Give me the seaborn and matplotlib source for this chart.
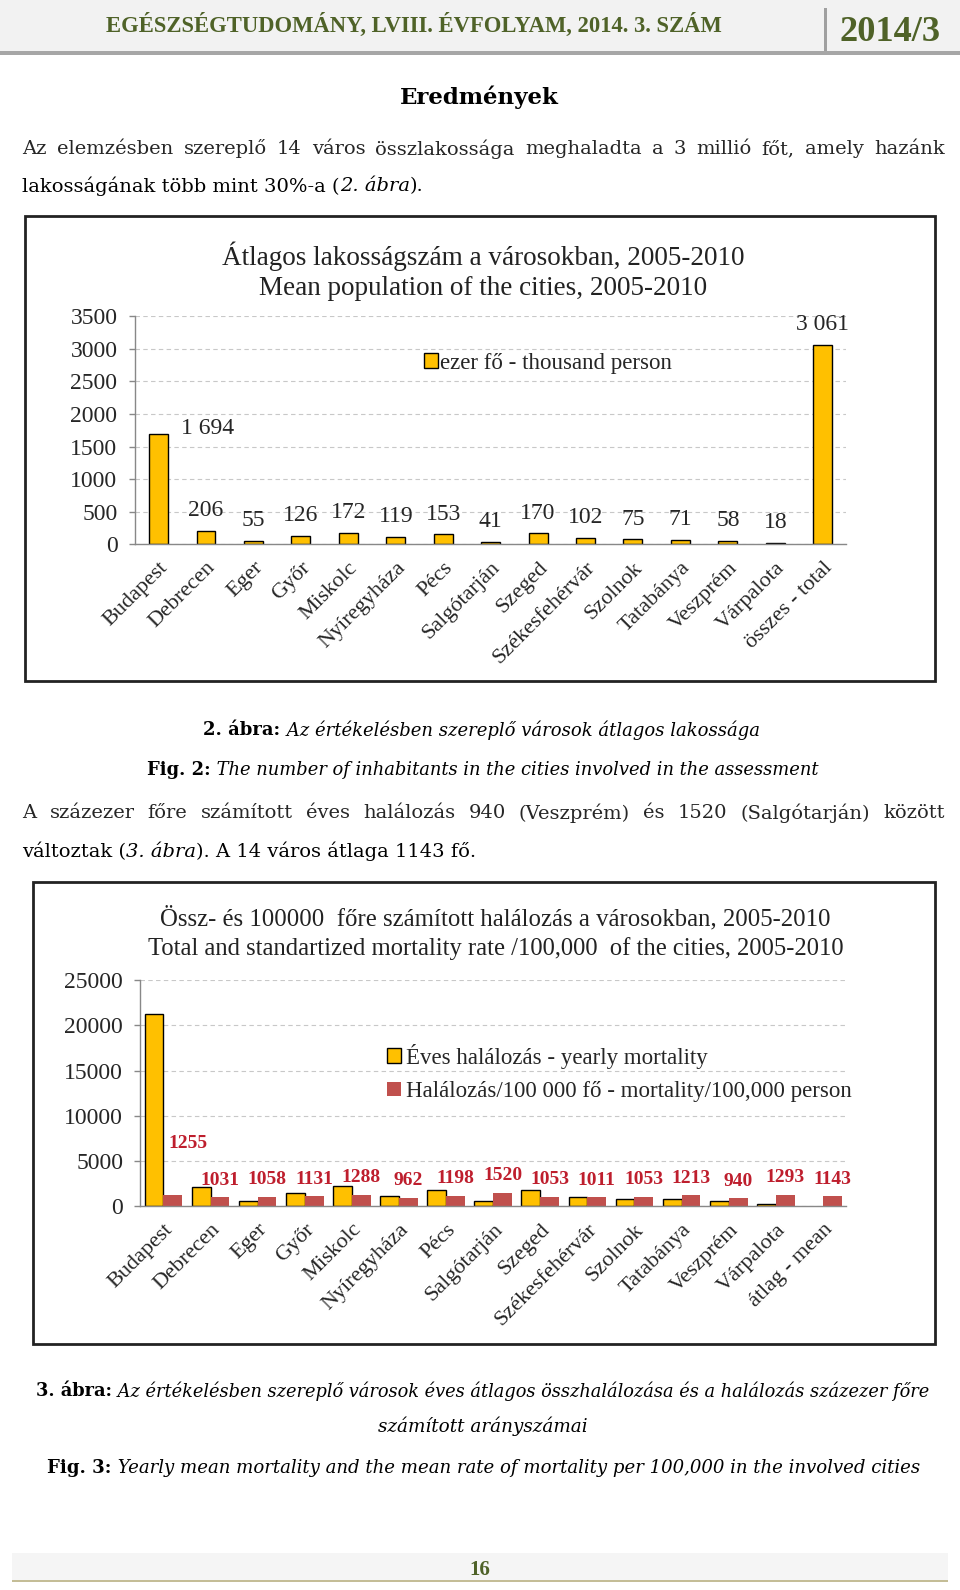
import numpy as np
import pandas as pd
import matplotlib
matplotlib.use("Agg")
import matplotlib.pyplot as plt
from matplotlib.patches import Rectangle
import seaborn as sns

# oldal mérete pixelben
W, H = 960, 1590
S = 960 / 947  # a helyek a képről olvasva, erre a méretre váltva

cities = ['Budapest', 'Debrecen', 'Eger', 'Győr', 'Miskolc', 'Nyíregyháza', 'Pécs',
          'Salgótarján', 'Szeged', 'Székesfehérvár', 'Szolnok', 'Tatabánya',
          'Veszprém', 'Várpalota']

# 2. ábra - átlagos lakosság (ezer fő)
labels_pop = cities + ['összes - total']
population = [1694, 206, 55, 126, 172, 119, 153, 41, 170, 102, 75, 71, 58, 18, 3061]

# 3. ábra - éves halálozás és halálozás/100 000 fő
labels_mort = cities + ['átlag - mean']
yearly_mortality = [21260, 2120, 580, 1430, 2220, 1140, 1830, 620, 1790, 1030,
                    790, 860, 550, 230, np.nan]
mortality_rate = [1255, 1031, 1058, 1131, 1288, 962, 1198, 1520, 1053, 1011,
                  1053, 1213, 940, 1293, 1143]

series_yearly = 'Éves halálozás - yearly mortality'
series_rate = 'Halálozás/100 000 fő - mortality/100,000 person'

YELLOW = '#FFC000'
RED = '#C0504D'
LABEL_RED = '#BE1E2D'
OLIVE = '#4F6228'
GREY = '#888888'
CHART_FONT = 'Liberation Serif'
BODY_FONT = 'DejaVu Serif'
BODY_SIZE = 14

sns.set_style('white')
plt.rcParams['font.family'] = [CHART_FONT, 'DejaVu Sans']

fig = plt.figure(figsize=(W / 100, H / 100), dpi=100)
fig.patch.set_facecolor('white')
r = fig.canvas.get_renderer()


def fx(x):
    return x * S / W


def fy(y):
    return 1 - y * S / H


def axes_px(left, top, right, bottom):
    return fig.add_axes([fx(left), fy(bottom), fx(right) - fx(left), fy(top) - fy(bottom)])


def seg_line(segs, y, x=473, ha='center', width=None, size=BODY_SIZE, family=BODY_FONT, color='black'):
    ts = []
    for s, weight, style in segs:
        ts.append(fig.text(0, fy(y), s, size=size, family=family, weight=weight,
                           style=style, color=color, va='center_baseline'))
    ws = [t.get_window_extent(r).width for t in ts]
    if width is not None:
        k = width * S / sum(ws)
        for t in ts:
            t.set_size(size * k)
        ws = [t.get_window_extent(r).width for t in ts]
    tot = sum(ws)
    x0 = x * S - tot / 2 if ha == 'center' else x * S
    for t, w in zip(ts, ws):
        t.set_x(x0 / W)
        x0 += w
    return ts


def justify(text, y, x0, x1, size=BODY_SIZE, family=BODY_FONT):
    words = text.split()
    ts = [fig.text(0, fy(y), w, size=size, family=family, va='center_baseline') for w in words]
    ws = [t.get_window_extent(r).width for t in ts]
    span = (x1 - x0) * S
    gap = (span - sum(ws)) / (len(words) - 1)
    if gap < 4:
        k = (span - 4 * (len(words) - 1)) / sum(ws)
        for t in ts:
            t.set_size(size * k)
        ws = [t.get_window_extent(r).width for t in ts]
        gap = (span - sum(ws)) / (len(words) - 1)
    x = x0 * S
    for t, w in zip(ts, ws):
        t.set_x(x / W)
        x += w + gap


def box_px(left, top, right, bottom, **kw):
    fig.patches.append(Rectangle((fx(left), fy(bottom)), fx(right) - fx(left), fy(top) - fy(bottom),
                                 transform=fig.transFigure, **kw))


def style_axes(ax, labels, ymax, ystep, ypad):
    ax.set_xlim(-0.5, len(labels) - 0.5)
    ax.set_ylim(0, ymax)
    ax.set_yticks(np.arange(0, ymax + 1, ystep))
    ax.set_xticks(range(len(labels)))
    ax.set_xticklabels(labels, rotation=45, ha='right', rotation_mode='anchor')
    ax.set_xticks(np.arange(-0.5, len(labels), 1), minor=True)
    ax.tick_params(axis='x', which='major', length=0, pad=10, labelsize=16)
    ax.tick_params(axis='x', which='minor', length=6, color=GREY, direction='out', width=1)
    ax.tick_params(axis='y', length=4, color=GREY, width=1, pad=ypad, labelsize=17, left=True)
    ax.yaxis.grid(True, linestyle=(0, (4, 3)), color='#C8C8C8', linewidth=0.8)
    ax.xaxis.grid(False)
    ax.set_axisbelow(True)
    for s in ['top', 'right']:
        ax.spines[s].set_visible(False)
    for s in ['left', 'bottom']:
        ax.spines[s].set_color(GREY)
        ax.spines[s].set_linewidth(1)
    ax.set_xlabel('')
    ax.set_ylabel('')
    ax.set_facecolor('none')


# fejléc
box_px(0, 0, 947, 50, facecolor='#F2F2F2', edgecolor='none')
box_px(0, 50, 947, 54, facecolor='#A6A6A6', edgecolor='none')
box_px(813, 8, 816, 50, facecolor='#A0A0A0', edgecolor='none')
seg_line([('EGÉSZSÉGTUDOMÁNY, LVIII. ÉVFOLYAM, 2014. 3. SZÁM', 'bold', 'normal')], 22,
         x=105, ha='left', width=610, family=CHART_FONT, color=OLIVE)
seg_line([('2014/3', 'bold', 'normal')], 28, x=828, ha='left', width=100,
         family=CHART_FONT, color=OLIVE)

# szöveg
seg_line([('Eredmények', 'bold', 'normal')], 93, x=473, width=157)
justify('Az elemzésben szereplő 14 város összlakossága meghaladta a 3 millió főt, amely hazánk',
        145, 22, 932)
seg_line([('lakosságának több mint 30%-a (', 'normal', 'normal'), ('2. ábra', 'normal', 'italic'),
          (').', 'normal', 'normal')], 182, x=22, ha='left')

# 2. ábra
box_px(25, 213, 922, 672, fill=False, edgecolor='#222222', linewidth=2)
seg_line([('Átlagos lakosságszám a városokban, 2005-2010', 'normal', 'normal')], 250,
         x=477, width=519, family=CHART_FONT, color='#222222')
seg_line([('Mean population of the cities, 2005-2010', 'normal', 'normal')], 282,
         x=477, width=445, family=CHART_FONT, color='#222222')

ax1 = axes_px(133, 312, 835, 537)
df_pop = pd.DataFrame({'város': labels_pop, 'ezer fő': population})
sns.barplot(data=df_pop, x='város', y='ezer fő', color=YELLOW, saturation=1, width=0.4,
            edgecolor='black', linewidth=1, errorbar=None, ax=ax1)
style_axes(ax1, labels_pop, 3500, 500, 8.5)
for i, v in enumerate(population):
    txt = f'{v:,}'.replace(',', ' ')
    if i == 0:
        ax1.annotate(txt, (i, v), xytext=(35, 4), textcoords='offset points',
                     ha='center', va='center', size=17)
    else:
        ax1.annotate(txt, (i, v), xytext=(0, 7), textcoords='offset points',
                     ha='center', va='bottom', size=17)
ax1.legend(handles=[Rectangle((0, 0), 1, 1, facecolor=YELLOW, edgecolor='black', linewidth=1)],
           labels=['ezer fő - thousand person'], loc='center left',
           bbox_to_anchor=(0.394, 0.795), frameon=False, handlelength=0.6,
           handleheight=0.6, handletextpad=0.1, fontsize=16.5, borderaxespad=0)

seg_line([('2. ábra:', 'bold', 'normal'),
          (' Az értékelésben szereplő városok átlagos lakossága', 'normal', 'italic')],
         718, x=475, width=550)
seg_line([('Fig. 2:', 'bold', 'normal'),
          (' The number of inhabitants in the cities involved in the assessment', 'normal', 'italic')],
         758, x=476, width=663)

justify('A százezer főre számított éves halálozás 940 (Veszprém) és 1520 (Salgótarján) között',
        800, 22, 932)
seg_line([('változtak (', 'normal', 'normal'), ('3. ábra', 'normal', 'italic'),
          ('). A 14 város átlaga 1143 fő.', 'normal', 'normal')], 838, x=22, ha='left')

# 3. ábra
box_px(33, 870, 922, 1326, fill=False, edgecolor='#222222', linewidth=2)
seg_line([('Össz- és 100000  főre számított halálozás a városokban, 2005-2010', 'normal', 'normal')],
         903, x=489, width=662, family=CHART_FONT, color='#222222')
seg_line([('Total and standartized mortality rate /100,000  of the cities, 2005-2010', 'normal', 'normal')],
         933, x=489, width=692, family=CHART_FONT, color='#222222')

ax2 = axes_px(138, 967, 835, 1190)
df_m = pd.DataFrame({
    'város': labels_mort + labels_mort,
    'érték': yearly_mortality + mortality_rate,
    'sorozat': [series_yearly] * len(labels_mort) + [series_rate] * len(labels_mort),
})
sns.barplot(data=df_m, x='város', y='érték', hue='sorozat', palette=[YELLOW, RED],
            saturation=1, width=0.8, errorbar=None, ax=ax2)
for p in ax2.containers[0]:
    p.set_edgecolor('black')
    p.set_linewidth(1)
for p in ax2.containers[1]:
    p.set_linewidth(0)
style_axes(ax2, labels_mort, 25000, 5000, 8)
for i, v in enumerate(mortality_rate):
    xpos = ax2.containers[1][i].get_x() + ax2.containers[1][i].get_width() / 2
    if i == 0:
        ax2.annotate(str(v), (xpos, v), xytext=(11, 37), textcoords='offset points',
                     ha='center', va='center', size=14, weight='bold', color=LABEL_RED)
    else:
        ax2.annotate(str(v), (xpos, v), xytext=(0, 6), textcoords='offset points',
                     ha='center', va='bottom', size=14, weight='bold', color=LABEL_RED)
ax2.legend(handles=[Rectangle((0, 0), 1, 1, facecolor=YELLOW, edgecolor='black', linewidth=1),
                    Rectangle((0, 0), 1, 1, facecolor=RED, edgecolor='none')],
           labels=[series_yearly, series_rate], loc='center left',
           bbox_to_anchor=(0.337, 0.59), frameon=False, handlelength=0.6,
           handleheight=0.6, handletextpad=0.2, fontsize=16.5, labelspacing=0.55,
           borderaxespad=0)

seg_line([('3. ábra:', 'bold', 'normal'),
          (' Az értékelésben szereplő városok éves átlagos összhalálozása és a halálozás százezer főre',
           'normal', 'italic')], 1370, x=476, width=887)
seg_line([('számított arányszámai', 'normal', 'italic')], 1405, x=476, width=208)
seg_line([('Fig. 3:', 'bold', 'normal'),
          (' Yearly mean mortality and the mean rate of mortality per 100,000 in the involved cities',
           'normal', 'italic')], 1446, x=477, width=865)

# lábléc
box_px(12, 1532, 935, 1559, facecolor='#F5F5F5', edgecolor='none')
box_px(12, 1559, 935, 1561, facecolor='#C4BD97', edgecolor='none')
seg_line([('16', 'bold', 'normal')], 1546, x=473, size=15, family=CHART_FONT, color=OLIVE)

fig.savefig('out.png', dpi=100, facecolor='white')
